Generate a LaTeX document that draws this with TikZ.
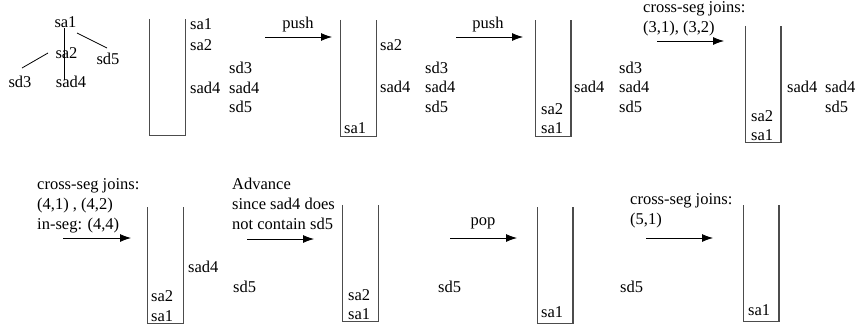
\documentclass[tikz,border=0pt]{standalone}
\usepackage{fontspec}
\setmainfont{Liberation Serif}
\usetikzlibrary{positioning,arrows.meta}
\tikzset{
    lbl/.style = {
        shape=rectangle,
        inner sep=0pt,
        anchor=west,
        font=\fontsize{16.5}{20}\selectfont
    },
    txt/.style = {
        lbl,
        align=left
    },
    stackbox/.style = {
        shape=rectangle,
        minimum width=35.5pt,
        minimum height=116pt,
        inner sep=0pt
    },
    wall/.style = {
        draw=black!70,
        line width=1.1pt
    },
    edge/.style = {
        draw,
        line width=0.8pt
    },
    >={Latex[length=11pt,width=8pt]},
}

\begin{document}
\begin{tikzpicture}[x=1pt,y=-1pt]
    \useasboundingbox (0,0) rectangle (857,332);

    % the tree
    \node[lbl, anchor=center] (t1) at (65.5,22) {sa1};
    \node[lbl, anchor=center] (t2) at (66.5,53) {sa2};
    \node[lbl, anchor=center] (t3) at (20,82) {sd3};
    \node[lbl, anchor=center] (t4) at (71,82) {sad4};
    \node[lbl, anchor=center] (t5) at (108,59) {sd5};
    \path[edge] ([shift={(-1.5,6)}]t1.center) -- ([shift={(-7,-2)}]t4.center);
    \path[edge] ([shift={(11.5,11)}]t1.center) -- ([shift={(-1,-11)}]t5.center);
    \path[edge] ([shift={(-18.5,0)}]t2.center) -- ([shift={(2,-14)}]t3.center);

    % stacks
    \node[stackbox] (st1) at (167.5,77) {};
    \node[stackbox] (st2) at (358.5,78) {};
    \node[stackbox] (st3) at (553,78.5) {};
    \node[stackbox] (st4) at (763,84) {};
    \node[stackbox] (st5) at (165.5,265.5) {};
    \node[stackbox] (st6) at (360.5,263) {};
    \node[stackbox] (st7) at (555,265.5) {};
    \node[stackbox] (st8) at (761,263.5) {};
    \foreach \s in {st1,st2,st3,st4,st5,st6,st7,st8}
        \path[wall] (\s.north west) |- (\s.south east) -- (\s.north east);

    % step 1
    \node[lbl] (r1a) at (190,24) {sa1};
    \node[lbl] (r1b) at (190,45) {sa2};
    \node[lbl] (r1c) at (190,88) {sad4};
    \node[lbl] (q1a) at (229,68) {sd3};
    \node[lbl] (q1b) at (229,88) {sad4};
    \node[lbl] (q1c) at (229,107) {sd5};

    % step 2
    \coordinate (a1s) at (265,37);
    \coordinate (a1e) at (332,37);
    \path[edge, ->] (a1s) -- (a1e);
    \node[lbl, anchor=center] (push1) at (298,25) {push};
    \node[lbl] (in2a) at (344,128) {sa1};
    \node[lbl] (r2a) at (380,45) {sa2};
    \node[lbl] (r2b) at (380,87) {sad4};
    \node[lbl] (q2a) at (425,68) {sd3};
    \node[lbl] (q2b) at (425,87) {sad4};
    \node[lbl] (q2c) at (425,107) {sd5};

    % step 3
    \coordinate (a2s) at (456,37);
    \coordinate (a2e) at (523,37);
    \path[edge, ->] (a2s) -- (a2e);
    \node[lbl, anchor=center] (push2) at (488,25) {push};
    \node[lbl] (in3a) at (541,109) {sa2};
    \node[lbl] (in3b) at (541,128) {sa1};
    \node[lbl] (r3a) at (574,87) {sad4};
    \node[lbl] (q3a) at (619,68) {sd3};
    \node[lbl] (q3b) at (619,87) {sad4};
    \node[lbl] (q3c) at (619,107) {sd5};

    % step 4
    \node[txt] (j4) at (643,19) {cross-seg joins:\\(3,1), (3,2)};
    \coordinate (a3s) at (657,41);
    \coordinate (a3e) at (724,41);
    \path[edge, ->] (a3s) -- (a3e);
    \node[lbl] (in4a) at (751,116) {sa2};
    \node[lbl] (in4b) at (751,135) {sa1};
    \node[lbl] (r4a) at (787,87) {sad4};
    \node[lbl] (q4a) at (825,87) {sad4};
    \node[lbl] (q4b) at (825,107) {sd5};

    % step 5
    \node[txt] (j5) at (37,206) {cross-seg joins:\\(4,1) , (4,2)\\in-seg: (4,4)};
    \coordinate (b1s) at (63,238);
    \coordinate (b1e) at (131,238);
    \path[edge, ->] (b1s) -- (b1e);
    \node[lbl] (in5a) at (151,296) {sa2};
    \node[lbl] (in5b) at (151,316) {sa1};
    \node[lbl] (r5a) at (188,267) {sad4};
    \node[lbl] (q5a) at (233,287) {sd5};

    % step 6
    \node[txt] (adv) at (232,204) {Advance\\since sad4 does\\not contain sd5};
    \coordinate (b2s) at (247,239);
    \coordinate (b2e) at (314,239);
    \path[edge, ->] (b2s) -- (b2e);
    \node[lbl] (in6a) at (348,295) {sa2};
    \node[lbl] (in6b) at (348,314) {sa1};
    \node[lbl] (q6a) at (438,287) {sd5};

    % step 7
    \node[lbl, anchor=center] (pop) at (483,223) {pop};
    \coordinate (b3s) at (450,238);
    \coordinate (b3e) at (517,238);
    \path[edge, ->] (b3s) -- (b3e);
    \node[lbl] (in7a) at (541,312) {sa1};
    \node[lbl] (q7a) at (620,287) {sd5};

    % step 8
    \node[txt] (j8) at (630,211) {cross-seg joins:\\(5,1)};
    \coordinate (b4s) at (646,238);
    \coordinate (b4e) at (713,238);
    \path[edge, ->] (b4s) -- (b4e);
    \node[lbl] (in8a) at (748,310) {sa1};
\end{tikzpicture}
\end{document}
